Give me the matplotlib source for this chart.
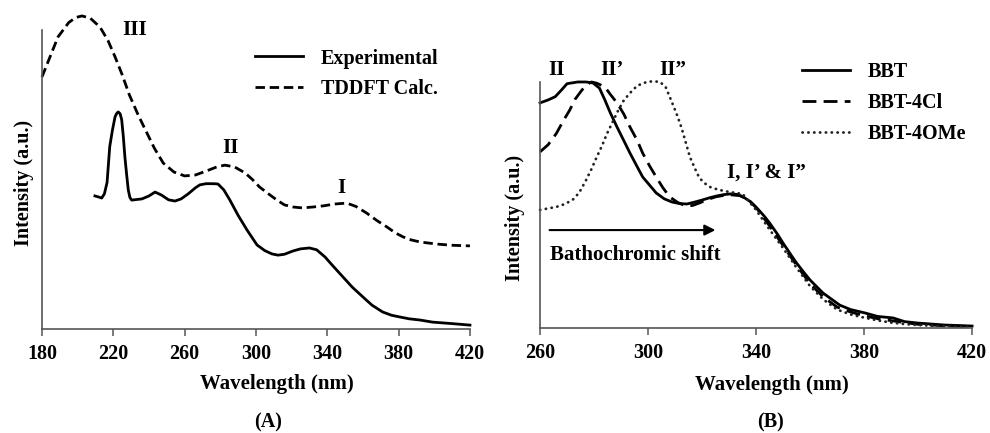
import numpy as np
import matplotlib
matplotlib.use("Agg")
import matplotlib.pyplot as plt

plt.rcParams['font.family'] = ['Liberation Serif', 'DejaVu Serif']
plt.rcParams['font.weight'] = 'bold'
plt.rcParams['font.size'] = 14.5
plt.rcParams['lines.solid_joinstyle'] = 'round'
plt.rcParams['lines.dash_joinstyle'] = 'round'

# panel A: experimental spectrum vs TDDFT calculation
exp_nm = [209.7, 211.5, 213.5, 215, 216.5, 218, 219.5, 221, 222, 222.8, 223.8, 224.7,
          225.6, 226.5, 227.5, 228.4, 229.3, 230.3, 233, 236, 240, 243.4, 247, 251,
          254.6, 258, 262, 266, 268.5, 272, 276, 278.7, 282, 285.4, 290, 295, 300.6,
          305, 309, 312.4, 316, 320.8, 325, 330, 334, 338.7, 343, 348.8, 354, 360,
          365, 371, 376, 380.8, 386, 392, 399, 410, 420]
exp_int = [0.445, 0.442, 0.438, 0.452, 0.49, 0.61, 0.665, 0.71, 0.722, 0.726, 0.72, 0.70,
           0.645, 0.575, 0.515, 0.465, 0.440, 0.431, 0.433, 0.435, 0.445, 0.458, 0.448,
           0.432, 0.428, 0.435, 0.452, 0.472, 0.482, 0.486, 0.486, 0.485, 0.465, 0.431,
           0.38, 0.331, 0.281, 0.262, 0.251, 0.247, 0.250, 0.261, 0.268, 0.271, 0.265,
           0.241, 0.212, 0.174, 0.140, 0.107, 0.080, 0.057, 0.046, 0.040, 0.034, 0.030,
           0.023, 0.018, 0.013]
calc_nm = [180, 184.5, 189, 195, 199, 202.4, 207, 212.5, 217, 221, 225, 229, 234, 238.9,
           243, 248, 254, 260, 266, 272, 278, 282.6, 288, 293.9, 298, 302, 307, 311.8,
           316, 320.8, 326, 332, 338, 344, 351, 356, 362, 368, 373.5, 378, 382.5, 387,
           392, 401.5, 410, 420]
calc_int = [0.843, 0.91, 0.977, 1.025, 1.042, 1.047, 1.040, 1.01, 0.965, 0.91, 0.85, 0.783,
            0.715, 0.655, 0.605, 0.555, 0.525, 0.512, 0.515, 0.528, 0.542, 0.548, 0.542,
            0.522, 0.500, 0.475, 0.452, 0.431, 0.415, 0.408, 0.405, 0.408, 0.412, 0.418,
            0.421, 0.410, 0.388, 0.362, 0.341, 0.322, 0.308, 0.298, 0.291, 0.284, 0.280,
            0.278]

# panel B: normalised spectra of the three derivatives
bbt_nm = [260, 263, 265.6, 268, 270, 274, 277, 279.6, 282, 284, 286, 288.5, 291, 293.3,
          296, 298, 301, 303, 306, 308.9, 311.5, 314.4, 317, 320, 323, 325.6, 328,
          330.4, 333, 335.2, 338, 340.3, 343, 345, 348, 350, 353, 355, 358, 360, 364.8,
          371, 375, 380.4, 385, 390.7, 395, 400, 410, 420]
bbt_int = [0.915, 0.927, 0.94, 0.968, 0.993, 1.0, 1.0, 0.996, 0.975, 0.927, 0.875, 0.817,
           0.762, 0.711, 0.655, 0.614, 0.575, 0.549, 0.525, 0.512, 0.506, 0.504, 0.511,
           0.520, 0.530, 0.537, 0.542, 0.545, 0.543, 0.533, 0.513, 0.488, 0.455, 0.427,
           0.380, 0.345, 0.296, 0.264, 0.222, 0.195, 0.142, 0.093, 0.075, 0.061, 0.047,
           0.041, 0.026, 0.020, 0.012, 0.008]
cl_nm = [260, 263, 266, 268.5, 271, 273, 275.5, 277.5, 279, 281, 284, 286, 288.5, 291,
         293.3, 296, 298, 300.5, 303, 305.5, 308, 311, 314, 316.5, 319, 322, 325, 328,
         331, 334, 337, 340, 345, 350, 355, 360, 365, 370, 375, 380, 385, 390, 395,
         400, 410, 420]
cl_int = [0.716, 0.745, 0.79, 0.84, 0.886, 0.93, 0.967, 0.99, 1.0, 0.995, 0.98, 0.95,
          0.915, 0.87, 0.817, 0.762, 0.711, 0.66, 0.614, 0.57, 0.533, 0.510, 0.496, 0.498,
          0.508, 0.522, 0.533, 0.539, 0.541, 0.538, 0.522, 0.49, 0.415, 0.335, 0.255,
          0.18, 0.125, 0.085, 0.065, 0.05, 0.038, 0.03, 0.022, 0.015, 0.009, 0.006]
ome_nm = [260, 263, 266, 269, 272, 274.5, 277, 279, 281, 283, 284.8, 287, 289, 291,
          293.3, 296, 299.5, 302, 304.4, 306.5, 308, 309.5, 311, 312.5, 313.7, 315.5,
          317.5, 319, 321, 323, 326, 330, 335, 340, 345, 350, 355, 360, 365, 370, 375,
          380, 385, 390, 395, 400, 410, 420]
ome_int = [0.48, 0.486, 0.492, 0.503, 0.52, 0.55, 0.6, 0.645, 0.695, 0.742, 0.79, 0.84,
           0.886, 0.925, 0.955, 0.985, 1.0, 1.003, 1.0, 0.98, 0.94, 0.90, 0.858, 0.81,
           0.764, 0.695, 0.645, 0.61, 0.588, 0.573, 0.562, 0.553, 0.545, 0.48, 0.40,
           0.325, 0.245, 0.17, 0.115, 0.075, 0.055, 0.042, 0.031, 0.022, 0.016, 0.012,
           0.007, 0.004]

ticks_a = [180, 220, 260, 300, 340, 380, 420]
ticks_b = [260, 300, 340, 380, 420]

fig = plt.figure(figsize=(9.9, 4.33), dpi=100)
ax_a = fig.add_axes([0.0424, 0.2402, 0.4323, 0.6905])
ax_b = fig.add_axes([0.5455, 0.2425, 0.4364, 0.5682])

spine_col = '#555555'
for ax in (ax_a, ax_b):
    ax.spines['top'].set_visible(False)
    ax.spines['right'].set_visible(False)
    for s in ('left', 'bottom'):
        ax.spines[s].set_color(spine_col)
        ax.spines[s].set_linewidth(1.2)
    ax.set_yticks([])
    ax.tick_params(axis='x', direction='out', length=5, width=1.1, color=spine_col,
                   labelsize=14.5, pad=6)
    ax.set_ylim(0, 1)

# ---- panel A ----
ax_a.plot(exp_nm, exp_int, color='black', lw=2.0, label='Experimental', clip_on=False)
ax_a.plot(calc_nm, calc_int, color='black', lw=2.0, ls=(0, (3.4, 1.7)),
          label='TDDFT Calc.', clip_on=False)
ax_a.set_xlim(180, 420)
ax_a.set_xticks(ticks_a)
ax_a.text(232, 1.0, 'III', ha='center', va='center', fontsize=15)
ax_a.text(286, 0.605, 'II', ha='center', va='center', fontsize=15)
ax_a.text(348, 0.472, 'I', ha='center', va='center', fontsize=15)
ax_a.legend(loc='upper left', bbox_to_anchor=(0.498, 0.938), frameon=False,
            handlelength=2.4, handletextpad=0.85, labelspacing=0.5,
            borderpad=0, borderaxespad=0, fontsize=14.5)
ax_a.text(-0.042, 0.49, 'Intensity (a.u.)', rotation=90, ha='center', va='center',
          transform=ax_a.transAxes, fontsize=14.5)
ax_a.text(0.549, -0.185, 'Wavelength (nm)', ha='center', va='center',
          transform=ax_a.transAxes, fontsize=15)

# ---- panel B ----
ax_b.plot(bbt_nm, bbt_int, color='black', lw=2.0, label='BBT', clip_on=False)
ax_b.plot(cl_nm, cl_int, color='black', lw=2.0, ls=(0, (5, 2.6)), label='BBT-4Cl',
          clip_on=False)
ax_b.plot(ome_nm, ome_int, color='#222222', lw=2.0, ls=(0, (0.1, 2.0)),
          dash_capstyle='round', label='BBT-4OMe', clip_on=False)
ax_b.set_xlim(260, 420)
ax_b.set_xticks(ticks_b)
ax_b.text(266, 1.049, 'II', ha='center', va='center', fontsize=15)
ax_b.text(286.7, 1.049, 'II\u2019', ha='center', va='center', fontsize=15)
ax_b.text(309, 1.049, 'II\u201d', ha='center', va='center', fontsize=15)
ax_b.text(344, 0.63, 'I, I\u2019 & I\u201d', ha='center', va='center', fontsize=15)
ax_b.annotate('', xy=(326, 0.398), xytext=(262.5, 0.398),
              arrowprops=dict(arrowstyle='-|>', color='black', lw=1.5,
                              mutation_scale=16))
ax_b.text(263.7, 0.297, 'Bathochromic shift', ha='left', va='center', fontsize=15)
ax_b.legend(loc='upper left', bbox_to_anchor=(0.606, 1.082), frameon=False,
            handlelength=2.4, handletextpad=0.85, labelspacing=0.56,
            borderpad=0, borderaxespad=0, fontsize=14.5)
ax_b.text(-0.058, 0.447, 'Intensity (a.u.)', rotation=90, ha='center', va='center',
          transform=ax_b.transAxes, fontsize=14.5)
ax_b.text(0.537, -0.232, 'Wavelength (nm)', ha='center', va='center',
          transform=ax_b.transAxes, fontsize=15)

fig.text(268 / 990, 1 - 422 / 433, '(A)', ha='center', va='center', fontsize=14.5)
fig.text(770 / 990, 1 - 422 / 433, '(B)', ha='center', va='center', fontsize=14.5)

fig.savefig('out.png', dpi=100)
